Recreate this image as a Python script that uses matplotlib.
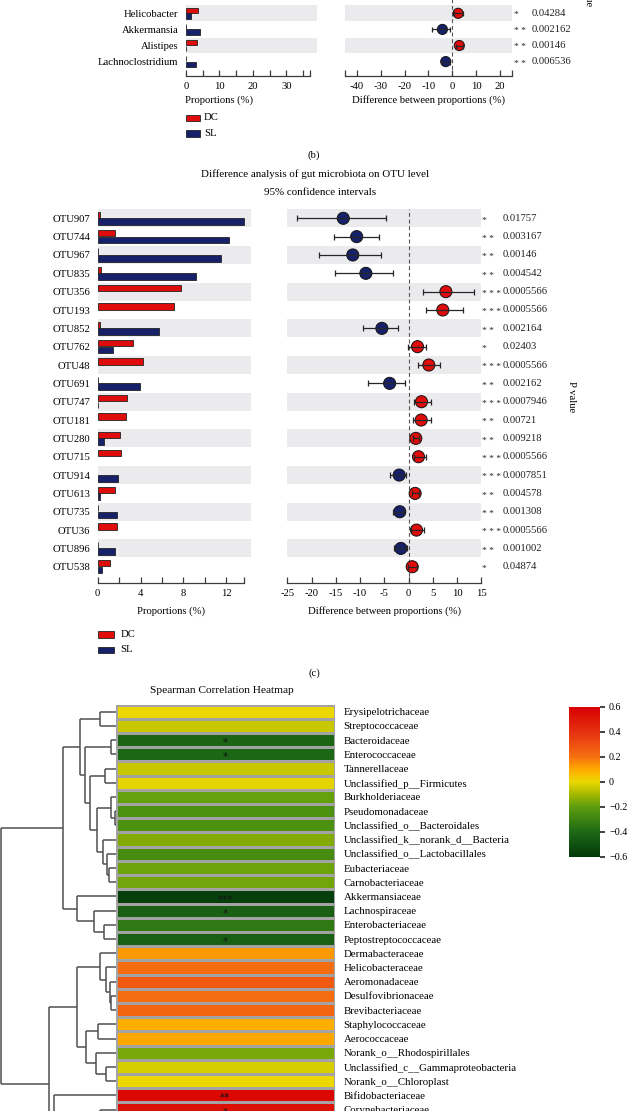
import numpy as np
import matplotlib
matplotlib.use('Agg')
import matplotlib.pyplot as plt
from matplotlib.colors import LinearSegmentedColormap, Normalize
from matplotlib.patches import Rectangle
from matplotlib.transforms import blended_transform_factory
import matplotlib.cm as cm

plt.rcParams['font.family'] = ['Liberation Serif', 'DejaVu Serif']
plt.rcParams['axes.unicode_minus'] = False

# ---------------- data: panel (b), genus level (visible rows) ----------------
genus_b = ['Helicobacter', 'Akkermansia', 'Alistipes', 'Lachnoclostridium']
dc_b = [3.7, 0.1, 3.25, 0.1]
sl_b = [1.4, 4.3, 0.1, 3.1]
diff_b = [2.5, -4.1, 3.0, -2.7]
lo_b = [0.85, -8.3, 1.6, -4.2]
hi_b = [4.7, -1.0, 4.4, -1.0]
stars_b = ['*', '**', '**', '**']
pval_b = ['0.04284', '0.002162', '0.00146', '0.006536']
ticks_b_left = [0, 10, 20, 30]
ticks_b_right = [-40, -30, -20, -10, 0, 10, 20]

# ---------------- data: panel (c), OTU level ----------------
otu_c = ['OTU907', 'OTU744', 'OTU967', 'OTU835', 'OTU356', 'OTU193', 'OTU852',
         'OTU762', 'OTU48', 'OTU691', 'OTU747', 'OTU181', 'OTU280', 'OTU715',
         'OTU914', 'OTU613', 'OTU735', 'OTU36', 'OTU896', 'OTU538']
dc_c = [0.25, 1.58, 0.05, 0.35, 7.74, 7.12, 0.2, 3.32, 4.26, 0.05,
        2.7, 2.64, 2.08, 2.14, 0.0, 1.64, 0.05, 1.77, 0.05, 1.15]
sl_c = [13.6, 12.25, 11.5, 9.17, 0.0, 0.0, 5.72, 1.46, 0.0, 3.98,
        0.05, 0.0, 0.56, 0.0, 1.92, 0.2, 1.83, 0.0, 1.64, 0.4]
diff_c = [-13.46, -10.7, -11.5, -8.8, 7.7, 7.06, -5.5, 1.85, 4.18, -3.9,
          2.67, 2.6, 1.5, 2.05, -1.93, 1.36, -1.8, 1.64, -1.58, 0.75]
lo_c = [-23.0, -15.4, -18.5, -15.2, 2.9, 3.5, -9.4, -0.15, 1.85, -8.3,
        1.16, 0.82, 0.82, 1.1, -3.85, 0.68, -3.3, 0.48, -3.1, -0.07]
hi_c = [-4.7, -6.1, -5.7, -3.2, 13.5, 11.3, -2.1, 3.5, 6.5, -0.76,
        4.65, 4.7, 2.2, 3.5, -0.6, 2.2, -0.96, 3.1, -0.35, 1.7]
stars_c = ['*', '**', '**', '**', '***', '***', '**', '*', '***', '**',
           '***', '**', '**', '***', '***', '**', '**', '***', '**', '*']
pval_c = ['0.01757', '0.003167', '0.00146', '0.004542', '0.0005566', '0.0005566',
          '0.002164', '0.02403', '0.0005566', '0.002162', '0.0007946', '0.00721',
          '0.009218', '0.0005566', '0.0007851', '0.004578', '0.001308', '0.0005566',
          '0.001002', '0.04874']
ticks_c_left = [0, 4, 8, 12]
ticks_c_right = [-25, -20, -15, -10, -5, 0, 5, 10, 15]

# ---------------- data: Spearman heatmap (visible rows) ----------------
families = ['Erysipelotrichaceae', 'Streptococcaceae', 'Bacteroidaceae', 'Enterococcaceae',
            'Tannerellaceae', 'Unclassified_p__Firmicutes', 'Burkholderiaceae',
            'Pseudomonadaceae', 'Unclassified_o__Bacteroidales',
            'Unclassified_k__norank_d__Bacteria', 'Unclassified_o__Lactobacillales',
            'Eubacteriaceae', 'Carnobacteriaceae', 'Akkermansiaceae', 'Lachnospiraceae',
            'Enterobacteriaceae', 'Peptostreptococcaceae', 'Dermabacteraceae',
            'Helicobacteraceae', 'Aeromonadaceae', 'Desulfovibrionaceae',
            'Brevibacteriaceae', 'Staphylococcaceae', 'Aerococcaceae',
            'Norank_o__Rhodospirillales', 'Unclassified_c__Gammaproteobacteria',
            'Norank_o__Chloroplast', 'Bifidobacteriaceae', 'Corynebacteriaceae']
rho = [0.0, -0.05, -0.42, -0.41, -0.05, -0.01, -0.19, -0.25, -0.25, -0.15,
       -0.27, -0.18, -0.17, -0.58, -0.44, -0.34, -0.44, 0.13, 0.21, 0.27,
       0.21, 0.23, 0.09, 0.10, -0.16, -0.03, 0.0, 0.57, 0.53]
sig = ['', '', '*', '*', '', '', '', '', '', '', '', '', '', '***', '*', '', '*',
       '', '', '', '', '', '', '', '', '', '', '**', '*']
cbar_ticks = [0.6, 0.4, 0.2, 0.0, -0.2, -0.4, -0.6]
cbar_labels = ['0.6', '0.4', '0.2', '0', '\u22120.2', '\u22120.4', '\u22120.6']
# dendrogram merges (a, b, height as fraction of root); leaf 29 = rows clipped below the crop
clipped_leaf_row = 44.4
merges = [(0, 1, 0.139), (2, 3, 0.046), (4, 5, 0.093), (7, 8, 0.009), (6, 33, 0.046),
          (11, 12, 0.058), (10, 35, 0.081), (9, 36, 0.110), (34, 37, 0.168),
          (32, 38, 0.226), (31, 39, 0.270), (30, 40, 0.313), (15, 16, 0.104),
          (14, 42, 0.191), (13, 43, 0.342), (41, 44, 0.458), (20, 21, 0.046),
          (19, 46, 0.052), (18, 47, 0.087), (17, 48, 0.139), (22, 23, 0.154),
          (25, 26, 0.087), (24, 51, 0.174), (50, 52, 0.261), (49, 53, 0.342),
          (28, 29, 0.139), (27, 55, 0.536), (54, 56, 0.580), (45, 57, 1.0)]

# ---------------- figure ----------------
W, H = 629, 1111
fig = plt.figure(figsize=(W / 100, H / 100), dpi=100)


def add_ax(x0, y0, x1, y1):
    return fig.add_axes([x0 / W, 1 - y1 / H, (x1 - x0) / W, (y1 - y0) / H])


def ftext(x, y, s, **kw):
    return fig.text(x / W, 1 - y / H, s, **kw)


RED = '#e00c0c'
NAVY = '#17216a'
BAND = '#ebebed'
AXC = '#3c3c3c'
FS = 7.7


def style_axis(ax):
    for s in ['top', 'right', 'left']:
        ax.spines[s].set_visible(False)
    ax.spines['bottom'].set_color(AXC)
    ax.spines['bottom'].set_linewidth(0.9)
    ax.tick_params(axis='x', direction='in', length=4, width=0.9, color=AXC,
                   labelsize=FS, pad=4, which='both')
    ax.tick_params(axis='y', length=0)
    ax.set_facecolor('none')


def bar_panel(ax, labels, dc, sl, xmax, spine_end, major, minor, pad):
    n = len(labels)
    rows = np.arange(n)
    for i in rows:
        if i % 2 == 0:
            ax.axhspan(i - 0.49, i + 0.49, color=BAND, zorder=0, lw=0)
    dc = np.asarray(dc)
    sl = np.asarray(sl)
    m = dc > 0
    ax.barh(rows[m] - 0.19, dc[m], height=0.34, color=RED, edgecolor='#222222',
            linewidth=0.6, zorder=2)
    m = sl > 0
    ax.barh(rows[m] + 0.18, sl[m], height=0.36, color=NAVY, edgecolor='#222222',
            linewidth=0.6, zorder=2)
    ax.set_xlim(0, xmax)
    ax.spines['bottom'].set_bounds(0, spine_end)
    ax.set_xticks(major)
    ax.set_xticks(minor, minor=True)
    ax.set_yticks(rows)
    ax.set_yticklabels(labels, fontsize=FS)
    ax.tick_params(axis='y', pad=pad)
    style_axis(ax)


def ci_panel(ax, diff, lo, hi, xlim, major, minor, ms, cap):
    n = len(diff)
    rows = np.arange(n)
    for i in rows:
        if i % 2 == 0:
            ax.axhspan(i - 0.49, i + 0.49, color=BAND, zorder=0, lw=0)
    ax.axvline(0, color='#555555', lw=0.8, ls=(0, (3.5, 2.5)), zorder=1)
    diff = np.asarray(diff)
    lo = np.asarray(lo)
    hi = np.asarray(hi)
    cols = [RED if d > 0 else NAVY for d in diff]
    ax.scatter(diff, rows, s=ms ** 2, c=cols, edgecolors='#111111', linewidths=0.7, zorder=3)
    ax.errorbar(diff, rows, xerr=[diff - lo, hi - diff], fmt='none', ecolor='#262626',
                elinewidth=0.9, capsize=cap, capthick=0.9, zorder=4)
    ax.set_xlim(*xlim)
    ax.set_xticks(major)
    ax.set_xticks(minor, minor=True)
    ax.set_yticks([])
    style_axis(ax)


def pvals(ax, stars, pv, xs, xp, fs):
    tr = blended_transform_factory(fig.transFigure, ax.transData)
    for i, (s, p) in enumerate(zip(stars, pv)):
        ax.text(xs / W, i + 0.12, ' '.join(s), transform=tr, fontsize=6.8,
                va='center', ha='left', color='#222222')
        ax.text(xp / W, i, p, transform=tr, fontsize=fs, va='center', ha='left',
                color='#222222')


# ---- panel (b) ----
r0b, spb = 13.3, 16.1
ytop_b = r0b - 1.5 * spb
ybot_b = 76.0
axbl = add_ax(186, ytop_b, 316.5, ybot_b)
bar_panel(axbl, genus_b, dc_b, sl_b, 39, 37.2, ticks_b_left, [5, 15, 25, 35, 37.2], 5.3)
axbl.set_ylim((ybot_b - r0b) / spb, -1.5)
axbr = add_ax(345, ytop_b, 511.7, ybot_b)
ci_panel(axbr, diff_b, lo_b, hi_b, (-45, 25), ticks_b_right, [-45, 25], 7.3, 1.8)
axbr.set_ylim((ybot_b - r0b) / spb, -1.5)
pvals(axbr, stars_b, pval_b, 513.5, 532, FS)
ftext(219, 100, 'Proportions (%)', fontsize=FS, ha='center', va='center')
ftext(428, 100, 'Difference between proportions (%)', fontsize=FS, ha='center', va='center')
ftext(588, -9, 'P value', fontsize=FS, ha='center', va='center', rotation=270)

# ---- panel (c) ----
ftext(315, 174, 'Difference analysis of gut microbiota on OTU level', fontsize=7.9,
      ha='center', va='center')
ftext(320, 192.7, '95% confidence intervals', fontsize=7.9, ha='center', va='center')
r0c, spc = 218.3, 18.34
ytop_c = r0c - 0.5 * spc
ybot_c = 583.3
axcl = add_ax(97.7, ytop_c, 250.7, ybot_c)
bar_panel(axcl, otu_c, dc_c, sl_c, 14.27, 13.6, ticks_c_left, [2, 6, 10, 13.6], 5.5)
axcl.set_ylim((ybot_c - r0c) / spc, -0.5)
axcr = add_ax(287.3, ytop_c, 481.3, ybot_c)
ci_panel(axcr, diff_c, lo_c, hi_c, (-25, 15), ticks_c_right, [], 8.7, 2.2)
axcr.set_ylim((ybot_c - r0c) / spc, -0.5)
pvals(axcr, stars_c, pval_c, 482, 502.7, FS)
ftext(170.7, 610.7, 'Proportions (%)', fontsize=FS, ha='center', va='center')
ftext(384.3, 610.7, 'Difference between proportions (%)', fontsize=FS, ha='center', va='center')
ftext(571.7, 396.7, 'P value', fontsize=FS, ha='center', va='center', rotation=270)

# legends
for (px, py, tx, lab, col) in [(186, 117.7, 204, 'DC', RED), (186, 133.3, 204, 'SL', NAVY),
                               (97.7, 634.3, 120.7, 'DC', RED), (97.7, 650, 120.7, 'SL', NAVY)]:
    wpx = 14 if px > 150 else 16.3
    fig.add_artist(Rectangle((px / W, 1 - (py + 3.2) / H), wpx / W, 6.4 / H,
                             transform=fig.transFigure, facecolor=col,
                             edgecolor='#222222', lw=0.6))
    ftext(tx, py, lab, fontsize=FS, ha='left', va='center')

ftext(314, 155, '(b)', fontsize=7.7, ha='center', va='center')
ftext(314, 673, '(c)', fontsize=7.7, ha='center', va='center')

# ---- heatmap ----
cmap = LinearSegmentedColormap.from_list('spear', [
    ((-0.6 + 0.6) / 1.2, '#033a0a'), ((-0.4 + 0.6) / 1.2, '#1e6a16'),
    ((-0.2 + 0.6) / 1.2, '#5e9e0e'), ((-0.1 + 0.6) / 1.2, '#a6b800'),
    ((0.0 + 0.6) / 1.2, '#ecd800'), ((0.1 + 0.6) / 1.2, '#ffaa00'),
    ((0.2 + 0.6) / 1.2, '#f57010'), ((0.4 + 0.6) / 1.2, '#e63010'),
    ((0.6 + 0.6) / 1.2, '#d80000')])
norm = Normalize(-0.6, 0.6)

r0h, sph = 711.7, 14.21
nh = len(families)
ytop_h = r0h - 0.5 * sph
ybot_h = r0h + (nh - 0.5) * sph
axh = add_ax(116, ytop_h, 334.7, ybot_h)
vals = np.array(rho).reshape(-1, 1)
axh.pcolormesh([0, 1], np.arange(nh + 1) - 0.5, vals, cmap=cmap, norm=norm,
               edgecolors='#a3a3a3', linewidth=0.9)
axh.set_xlim(0, 1)
axh.set_ylim(nh - 0.5, -0.5)
for s in axh.spines.values():
    s.set_visible(False)
axh.set_xticks([])
axh.yaxis.tick_right()
axh.set_yticks(np.arange(nh))
axh.set_yticklabels(families, fontsize=7.8)
axh.tick_params(axis='y', length=0, pad=6.5)
for i, s in enumerate(sig):
    if s:
        axh.text(0.5, i + 0.22, s, ha='center', va='center', fontsize=7.5,
                 color='#151515', fontfamily='DejaVu Sans')

# dendrogram
axd = add_ax(0, ytop_h, 116, ybot_h)
axd.set_xlim(116 / 115, 0)
axd.set_ylim(nh - 0.5, -0.5)
axd.axis('off')
pos = {i: (float(i), 0.0) for i in range(nh)}
pos[nh] = (clipped_leaf_row, 0.0)
nid = nh + 1
for a, b, h in merges:
    ya, ha = pos[a]
    yb, hb = pos[b]
    kw = dict(color='#505050', lw=1.1, clip_on=False, solid_capstyle='butt')
    axd.plot([ha, h], [ya, ya], **kw)
    axd.plot([hb, h], [yb, yb], **kw)
    axd.plot([h, h], [ya, yb], **kw)
    pos[nid] = ((ya + yb) / 2, h)
    nid += 1

ftext(222, 690.7, 'Spearman Correlation Heatmap', fontsize=8.2, ha='center', va='center')

# colorbar
cax = add_ax(569, 706.7, 600, 856.7)
cb = fig.colorbar(cm.ScalarMappable(norm=norm, cmap=cmap), cax=cax)
cb.outline.set_visible(False)
cb.set_ticks(cbar_ticks)
cb.set_ticklabels(cbar_labels)
cax.tick_params(length=3.5, width=1.2, color='#222222', labelsize=7.3, pad=3)

fig.savefig('out.png', dpi=100)
